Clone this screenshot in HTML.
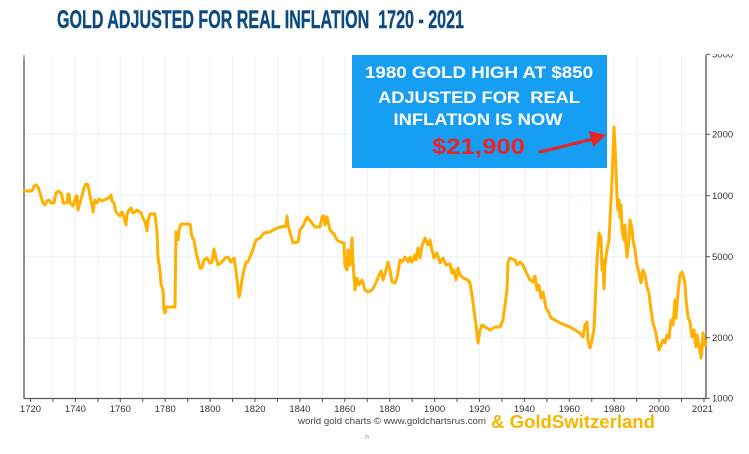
<!DOCTYPE html>
<html>
<head>
<meta charset="utf-8">
<style>
  html,body{margin:0;padding:0;background:#fff;}
  svg{display:block;}
</style>
</head>
<body>
<svg width="749" height="454" viewBox="0 0 749 454" xmlns="http://www.w3.org/2000/svg" xml:space="preserve">
  <rect x="0" y="0" width="749" height="454" fill="#ffffff"/>

  <!-- Title -->
  <text x="57" y="28" font-family="Liberation Sans, Arial, sans-serif" font-weight="bold" font-size="25" fill="#0d4a80" stroke="#0d4a80" stroke-width="0.4" textLength="407" lengthAdjust="spacingAndGlyphs" xml:space="preserve">GOLD ADJUSTED FOR REAL INFLATION  1720 - 2021</text>

  <!-- Gridlines -->
  <g stroke="#e6f2fc" stroke-width="1">
    <line x1="52.95" y1="55" x2="52.95" y2="398"/>
    <line x1="75.4" y1="55" x2="75.4" y2="398"/>
    <line x1="97.85" y1="55" x2="97.85" y2="398"/>
    <line x1="120.3" y1="55" x2="120.3" y2="398"/>
    <line x1="142.75" y1="55" x2="142.75" y2="398"/>
    <line x1="165.2" y1="55" x2="165.2" y2="398"/>
    <line x1="187.65" y1="55" x2="187.65" y2="398"/>
    <line x1="210.1" y1="55" x2="210.1" y2="398"/>
    <line x1="232.55" y1="55" x2="232.55" y2="398"/>
    <line x1="255" y1="55" x2="255" y2="398"/>
    <line x1="277.45" y1="55" x2="277.45" y2="398"/>
    <line x1="299.9" y1="55" x2="299.9" y2="398"/>
    <line x1="322.35" y1="55" x2="322.35" y2="398"/>
    <line x1="344.8" y1="55" x2="344.8" y2="398"/>
    <line x1="367.25" y1="55" x2="367.25" y2="398"/>
    <line x1="389.7" y1="55" x2="389.7" y2="398"/>
    <line x1="412.15" y1="55" x2="412.15" y2="398"/>
    <line x1="434.6" y1="55" x2="434.6" y2="398"/>
    <line x1="457.05" y1="55" x2="457.05" y2="398"/>
    <line x1="479.5" y1="55" x2="479.5" y2="398"/>
    <line x1="501.95" y1="55" x2="501.95" y2="398"/>
    <line x1="524.4" y1="55" x2="524.4" y2="398"/>
    <line x1="546.85" y1="55" x2="546.85" y2="398"/>
    <line x1="569.3" y1="55" x2="569.3" y2="398"/>
    <line x1="591.75" y1="55" x2="591.75" y2="398"/>
    <line x1="614.2" y1="55" x2="614.2" y2="398"/>
    <line x1="636.65" y1="55" x2="636.65" y2="398"/>
    <line x1="659.1" y1="55" x2="659.1" y2="398"/>
    <line x1="681.55" y1="55" x2="681.55" y2="398"/>
    <line x1="24" y1="134.3" x2="706" y2="134.3"/>
    <line x1="24" y1="195.7" x2="706" y2="195.7"/>
    <line x1="24" y1="256.7" x2="706" y2="256.7"/>
    <line x1="24" y1="337.7" x2="706" y2="337.7"/>
  </g>

  <!-- Axes -->
  <g stroke="#555" stroke-width="1.3" fill="none">
    <line x1="24" y1="55" x2="24" y2="398.5"/>
    <line x1="706" y1="55" x2="706" y2="398.5"/>
    <line x1="24" y1="398.5" x2="706" y2="398.5"/>
  </g>
  <g stroke="#999" stroke-width="1">
    <line x1="24" y1="55" x2="24" y2="60"/>
  </g>
  <!-- bottom ticks -->
  <g stroke="#555" stroke-width="1">
    <line x1="30.5" y1="398" x2="30.5" y2="402"/>
    <line x1="52.95" y1="398" x2="52.95" y2="402"/>
    <line x1="75.4" y1="398" x2="75.4" y2="402"/>
    <line x1="97.85" y1="398" x2="97.85" y2="402"/>
    <line x1="120.3" y1="398" x2="120.3" y2="402"/>
    <line x1="142.75" y1="398" x2="142.75" y2="402"/>
    <line x1="165.2" y1="398" x2="165.2" y2="402"/>
    <line x1="187.65" y1="398" x2="187.65" y2="402"/>
    <line x1="210.1" y1="398" x2="210.1" y2="402"/>
    <line x1="232.55" y1="398" x2="232.55" y2="402"/>
    <line x1="255" y1="398" x2="255" y2="402"/>
    <line x1="277.45" y1="398" x2="277.45" y2="402"/>
    <line x1="299.9" y1="398" x2="299.9" y2="402"/>
    <line x1="322.35" y1="398" x2="322.35" y2="402"/>
    <line x1="344.8" y1="398" x2="344.8" y2="402"/>
    <line x1="367.25" y1="398" x2="367.25" y2="402"/>
    <line x1="389.7" y1="398" x2="389.7" y2="402"/>
    <line x1="412.15" y1="398" x2="412.15" y2="402"/>
    <line x1="434.6" y1="398" x2="434.6" y2="402"/>
    <line x1="457.05" y1="398" x2="457.05" y2="402"/>
    <line x1="479.5" y1="398" x2="479.5" y2="402"/>
    <line x1="501.95" y1="398" x2="501.95" y2="402"/>
    <line x1="524.4" y1="398" x2="524.4" y2="402"/>
    <line x1="546.85" y1="398" x2="546.85" y2="402"/>
    <line x1="569.3" y1="398" x2="569.3" y2="402"/>
    <line x1="591.75" y1="398" x2="591.75" y2="402"/>
    <line x1="614.2" y1="398" x2="614.2" y2="402"/>
    <line x1="636.65" y1="398" x2="636.65" y2="402"/>
    <line x1="659.1" y1="398" x2="659.1" y2="402"/>
    <line x1="681.55" y1="398" x2="681.55" y2="402"/>
    <line x1="704" y1="398" x2="704" y2="402"/>
  </g>
  <!-- right ticks -->
  <g stroke="#555" stroke-width="1">
    <line x1="706" y1="54.3" x2="710" y2="54.3"/>
    <line x1="706" y1="134.3" x2="710" y2="134.3"/>
    <line x1="706" y1="195.7" x2="710" y2="195.7"/>
    <line x1="706" y1="256.7" x2="710" y2="256.7"/>
    <line x1="706" y1="337.7" x2="710" y2="337.7"/>
    <line x1="706" y1="398.3" x2="710" y2="398.3"/>
  </g>

  <!-- X labels -->
  <g font-family="Liberation Sans, Arial, sans-serif" font-size="9.5" fill="#333" text-anchor="middle">
    <text x="30.5" y="412">1720</text>
    <text x="75.4" y="412">1740</text>
    <text x="120.3" y="412">1760</text>
    <text x="165.2" y="412">1780</text>
    <text x="210.1" y="412">1800</text>
    <text x="255" y="412">1820</text>
    <text x="299.9" y="412">1840</text>
    <text x="344.8" y="412">1860</text>
    <text x="389.7" y="412">1880</text>
    <text x="434.6" y="412">1900</text>
    <text x="479.5" y="412">1920</text>
    <text x="524.4" y="412">1940</text>
    <text x="569.3" y="412">1960</text>
    <text x="614.2" y="412">1980</text>
    <text x="659.1" y="412">2000</text>
    <text x="702.5" y="412">2021</text>
  </g>

  <!-- Y labels (right) -->
  <defs>
    <clipPath id="topclip"><rect x="700" y="54.3" width="49" height="20"/></clipPath>
  </defs>
  <g font-family="Liberation Sans, Arial, sans-serif" font-size="9.5" fill="#333">
    <text x="712" y="57.5" clip-path="url(#topclip)">5000</text>
    <text x="712" y="137.6">2000</text>
    <text x="712" y="199">1000</text>
    <text x="712" y="260">5000</text>
    <text x="712" y="341">2000</text>
    <text x="712" y="401.6">1000</text>
  </g>

  <!-- Data series -->
  <polyline fill="none" stroke="#ffb000" stroke-width="3" stroke-linejoin="round" stroke-linecap="round"
    points="25,191 32,191 34,186 36,185 38,187 40,193 42,200 43,203 45,205 47,201 49,200 51,203 54,203 56,193 58,191 61,193 62,196 63,203 66,203 67,203 68,194 69,194 70,203 73,206 74,203 76,196 77,196 78,210 79,206 80,203 82,196 84,188 86,184 88,185 89,190 90,196 92,205 93,212 94,205 95,200 97,203 99,199 102,201 106,199 108,198 110,197 111,195 112,201 114,203 116,212 118,214 120,216 122,212 124,218 126,225 127,214 129,210 131,208 133,213 135,212 137,210 141,213 143,218 145,222 146,226 147,231 148,221 150,214 155,214 157,232 158,258 160,270 161,284 163,290 164,310 165,313 166,307 175,307 176,232 177,238 178,240 179,230 181,224 190,224 192,237 194,240 196,252 198,260 200,268 202,268 204,260 207,258 210,263 212,262 214,249 216,258 218,265 222,262 225,258 228,257 231,262 234,258 236,271 238,288 239,297 240,293 242,280 244,270 246,262 248,262 252,252 256,240 260,238 264,233 270,232 275,229 280,227 286,226 287,216 288,225 291,236 293,243 298,242 300,230 303,226 307,217 312,223 315,227 320,227 322,217 324,216 325,225 327,217 330,230 334,234 337,240 340,242 344,243 345,266 347,270 348,250 350,265 352,238 353,262 355,290 357,278 359,285 362,280 365,290 368,292 372,290 375,285 379,275 381,271 383,280 386,270 388,262 390,270 392,282 395,283 397,278 400,260 402,262 405,257 408,262 410,257 412,262 415,255 416,260 418,248 420,258 422,246 425,238 428,245 430,240 432,250 434,258 437,253 440,263 443,258 446,265 450,264 452,273 454,270 456,280 458,268 460,275 463,278 468,280 470,283 472,295 474,310 476,325 478,343 480,330 482,325 485,327 490,330 495,327 500,327 503,320 505,305 507,290 508,262 510,258 515,260 517,265 520,262 523,265 526,272 530,280 533,282 535,276 537,290 539,285 541,298 543,292 546,308 549,313 551,318 555,320 560,323 565,325 570,327 575,330 580,333 583,337 585,325 587,322 588,340 590,348 592,340 594,330 595,307 597,260 599,233 601,237 602,270 603,260 604,289 605,265 607,250 609,240 610,220 612,180 613,153 614,127 615,145 616,170 617,197 618,210 619,200 620,218 621,205 622,230 624,240 625,225 626,245 627,257 629,240 630,220 632,228 633,240 635,250 637,265 639,273 641,283 643,270 645,275 647,287 649,293 651,310 653,323 656,333 657,340 659,350 661,345 663,340 665,343 667,335 669,338 671,320 673,325 675,300 676,318 678,293 680,275 682,272 683,275 685,283 686,300 688,317 690,322 692,337 694,330 696,347 697,335 699,345 701,358 702,350 703,333 704,338 705,345 706,342"/>

  <!-- Annotation box -->
  <rect x="352" y="55" width="255" height="113" fill="#169ef3"/>
  <g font-family="Liberation Sans, Arial, sans-serif" font-weight="bold" fill="#ffffff" text-anchor="middle">
    <text x="479" y="78" font-size="17" textLength="228" lengthAdjust="spacingAndGlyphs">1980 GOLD HIGH AT $850</text>
    <text x="479" y="103" font-size="17" textLength="202" lengthAdjust="spacingAndGlyphs" xml:space="preserve">ADJUSTED FOR  REAL</text>
    <text x="478" y="125" font-size="17" textLength="169" lengthAdjust="spacingAndGlyphs">INFLATION IS NOW</text>
  </g>
  <text x="478.5" y="154" font-family="Liberation Sans, Arial, sans-serif" font-weight="bold" font-size="22" fill="#e8232a" text-anchor="middle" textLength="93" lengthAdjust="spacingAndGlyphs">$21,900</text>

  <!-- Arrow -->
  <line x1="540" y1="152" x2="593" y2="139" stroke="#e52521" stroke-width="3" stroke-linecap="round"/>
  <polygon points="606,135 589,131 593,147" fill="#e52521"/>

  <!-- Footer -->
  <text x="298" y="424" font-family="Liberation Sans, Arial, sans-serif" font-size="9.5" fill="#444" textLength="188" lengthAdjust="spacingAndGlyphs">world gold charts © www.goldchartsrus.com</text>
  <text x="491" y="428" font-family="Liberation Sans, Arial, sans-serif" font-weight="bold" font-size="18.5" fill="#f7b500" textLength="164" lengthAdjust="spacingAndGlyphs">&amp; GoldSwitzerland</text>
  <text x="365" y="439" font-family="Liberation Sans, Arial, sans-serif" font-size="7" fill="#888">n</text>
</svg>
</body>
</html>
